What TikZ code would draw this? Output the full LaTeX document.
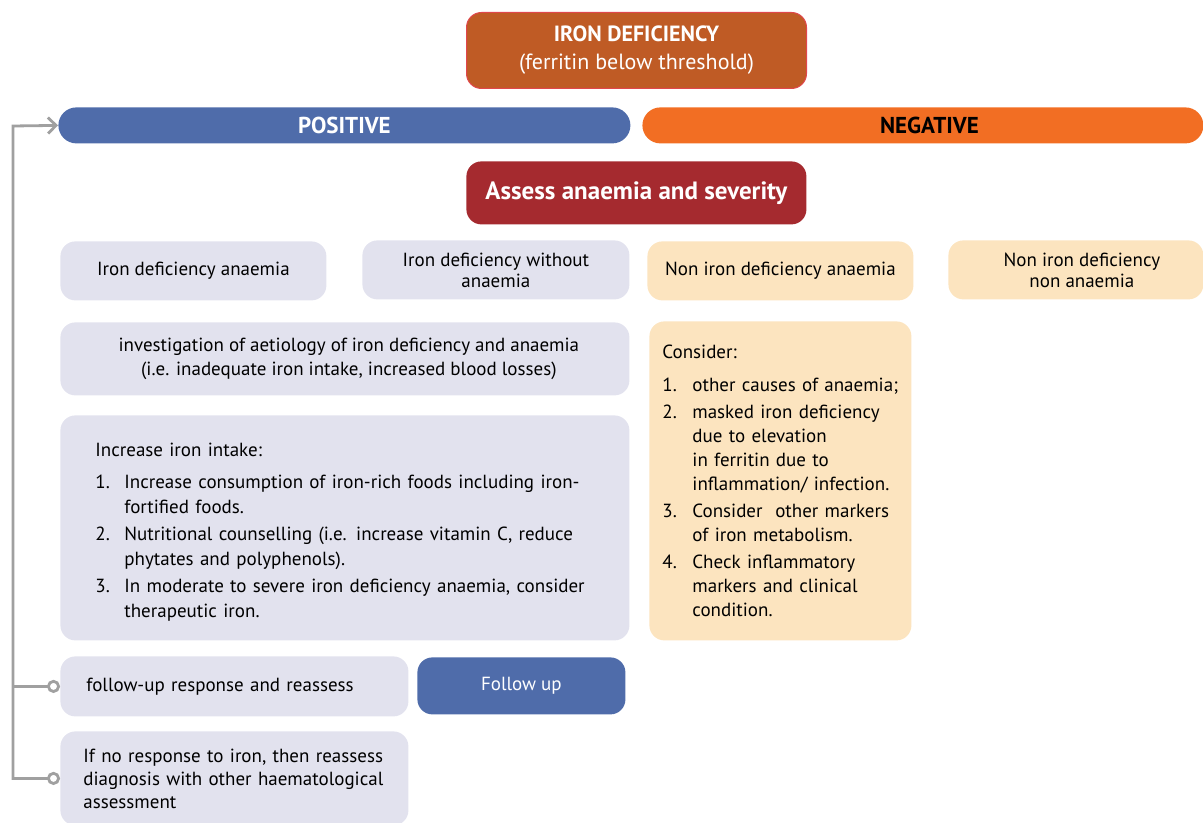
\documentclass[tikz,border=0pt]{standalone}
\usepackage{fontspec}
\setmainfont{PT Sans}
\usepackage{tikz}
\usetikzlibrary{arrows.meta}

\definecolor{ironbrown}{HTML}{BF5B25}
\definecolor{ironrim}{HTML}{E0474C}
\definecolor{posblue}{HTML}{4F6CAA}
\definecolor{negorange}{HTML}{F26E23}
\definecolor{assessred}{HTML}{A52A2F}
\definecolor{lavbox}{HTML}{E2E2EE}
\definecolor{peachbox}{HTML}{FCE4BF}
\definecolor{linegrey}{HTML}{A0A0A0}

\newcommand{\itm}[1]{\makebox[14.5pt][l]{#1}}
\newcommand{\citm}[1]{\makebox[15pt][l]{#1}}

\begin{document}
\begin{tikzpicture}[x=0.5pt,y=-0.5pt,
    every node/.style={font=\fontsize{9.5}{11.5}\selectfont},
    box/.style={anchor=north west,rounded corners=7.5pt,inner sep=0pt,align=center},
    lav/.style={box,fill=lavbox},
    peach/.style={box,fill=peachbox},
    bar/.style={anchor=north west,rounded corners=9pt,inner sep=0pt,minimum height=18pt,font=\fontsize{11.5}{12}\selectfont\bfseries},
    conn/.style={draw=linegrey,line width=1.4pt}]
    \clip (0,0) rectangle (1203,823);

    % header
    \node[box,fill=ironbrown,draw=ironrim,line width=0.5pt,text=white,minimum width=170pt,minimum height=38pt,
          font=\fontsize{11}{14}\selectfont] (iron) at (466,12)
          {\textbf{IRON DEFICIENCY}\\(ferritin below threshold)};
    \node[bar,fill=posblue,text=white,minimum width=286pt] (pos) at (58,107) {POSITIVE};
    \node[bar,fill=negorange,text=black,minimum width=280.5pt] (neg) at (642,107) {\hspace{6.5pt}NEGATIVE};
    \node[box,fill=assessred,text=white,minimum width=170pt,minimum height=31.5pt,
          font=\fontsize{12.5}{14}\selectfont\bfseries] (assess) at (466,161) {Assess anaemia and severity};

    % outcomes
    \node[lav,minimum width=133pt,minimum height=29.5pt] (ida) at (60,241) {Iron deficiency anaemia};
    \node[lav,minimum width=133.5pt,minimum height=29.5pt,font=\fontsize{9.5}{10.5}\selectfont] (idwa) at (362,240)
          {Iron deficiency without\\anaemia};
    \node[peach,minimum width=133pt,minimum height=29.5pt] (nida) at (647,241) {Non iron deficiency anaemia};
    \node[peach,minimum width=127.5pt,minimum height=29.5pt,font=\fontsize{9.5}{10.5}\selectfont] (nidna) at (948,240)
          {\hspace{6pt}Non iron deficiency\\\hspace{6pt}non anaemia};

    % positive branch
    \node[lav,minimum width=284.5pt,minimum height=36.5pt,font=\fontsize{9.5}{12}\selectfont] (invest) at (60,322)
          {\hspace{4pt}investigation of aetiology of iron deficiency and anaemia\\
           \hspace{4pt}(i.e. inadequate iron intake, increased blood losses)};
    \node[lav,minimum width=284.5pt,minimum height=112.5pt,inner xsep=17.5pt,text width=249.5pt,align=left,
          font=\fontsize{9.5}{12.5}\selectfont] (intake) at (60,415)
          {\rule{0pt}{11pt}Increase iron intake:\\[3.5pt]
           \itm{1.}Increase consumption of iron-rich foods including iron-\\
           \itm{}fortified foods.\\[1pt]
           \itm{2.}Nutritional counselling (i.e. increase vitamin C, reduce\\
           \itm{}phytates and polyphenols).\\[1pt]
           \itm{3.}In moderate to severe iron deficiency anaemia, consider\\
           \itm{}therapeutic iron.};
    \node[lav,minimum width=174pt,minimum height=30pt,inner xsep=13pt,text width=148pt,align=left] (fup) at (60,656)
          {follow-up response and reassess};
    \node[box,fill=posblue,text=white,minimum width=104pt,minimum height=28.5pt] (fupbtn) at (417,657) {Follow up};
    \node[lav,minimum width=174pt,minimum height=47pt,inner xsep=11.5pt,text width=151pt,align=left] (noresp) at (60,731)
          {If no response to iron, then reassess\\diagnosis with other haematological\\assessment};

    % negative branch
    \node[peach,minimum width=131pt,minimum height=159.5pt,inner xsep=6.5pt,text width=118pt,align=left,
          font=\fontsize{9.5}{12}\selectfont] (consider) at (649,321)
          {Consider:\\[4.5pt]
           \citm{1.}\mbox{other causes of anaemia;}\\[1.5pt]
           \citm{2.}masked iron deficiency\\
           \citm{}due to elevation\\
           \citm{}in ferritin due to\\
           \citm{}\mbox{inflammation/ infection.}\\[1.5pt]
           \citm{3.}\mbox{Consider\ \ other markers}\\
           \citm{}of iron metabolism.\\[1.5pt]
           \citm{4.}Check inflammatory\\
           \citm{}markers and clinical\\
           \citm{}condition.};

    % feedback line
    \coordinate (bend) at (13,126);
    \draw[conn,{Circle[open,length=6.5pt,fill=white]}-{Straight Barb[length=4pt,width=8pt]}]
        (noresp.west) -| (bend) -- (pos.west);
    \draw[conn,{Circle[open,length=6.5pt,fill=white]}-] (fup.west) -- (fup.west -| bend);
\end{tikzpicture}
\end{document}
